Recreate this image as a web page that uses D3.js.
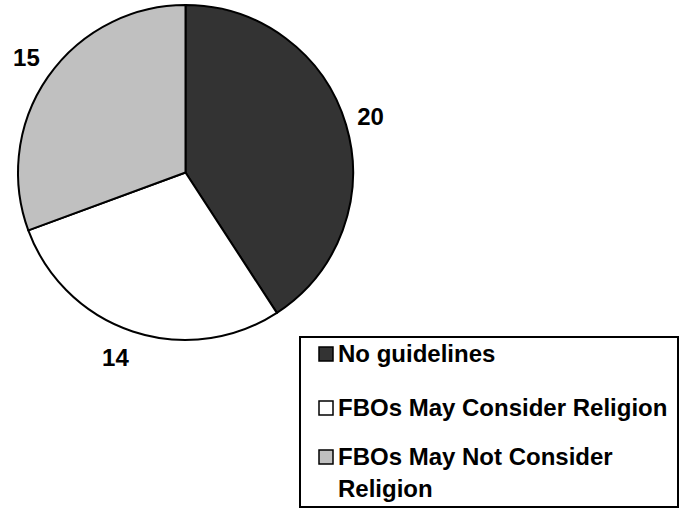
<!DOCTYPE html>
<html>
<head>
<meta charset="utf-8">
<script src="https://cdn.jsdelivr.net/npm/d3@7"></script>
<style>
  html, body { margin: 0; padding: 0; background: #fff; }
  svg text { font-family: "Liberation Sans", Arial, sans-serif; font-weight: bold; fill: #000; }
</style>
</head>
<body>
<svg id="chart" width="679" height="508"></svg>
<script>
// Survey responses on guidelines for faith-based organisations
const categories = ["No guidelines", "FBOs May Consider Religion", "FBOs May Not Consider Religion"];
const counts = [20, 14, 15];
const sliceColors = ["#333333", "#ffffff", "#c0c0c0"];
// legend lines (third label wraps onto two lines)
const legendLines = [["No guidelines"], ["FBOs May Consider Religion"], ["FBOs May Not Consider", "Religion"]];

const svg = d3.select("#chart");
const cx = 185.5, cy = 172.5, radius = 167.5;

const pie = d3.pie().sort(null).value(d => d)(counts);
const arc = d3.arc().innerRadius(0).outerRadius(radius);
const labelArc = d3.arc().innerRadius(194).outerRadius(194);

const g = svg.append("g").attr("transform", `translate(${cx},${cy})`);

g.selectAll("path.slice")
  .data(pie)
  .join("path")
  .attr("class", "slice")
  .attr("d", arc)
  .attr("fill", (d, i) => sliceColors[i])
  .attr("stroke", "#000")
  .attr("stroke-width", 2)
  .attr("stroke-linejoin", "round");

// value labels sit outside the rim; small nudges keep them clear of the edge
const labelNudge = [[-1, -1], [-9, 1], [0, -4]];
g.selectAll("text.value")
  .data(pie)
  .join("text")
  .attr("class", "value")
  .attr("x", (d, i) => labelArc.centroid(d)[0] + labelNudge[i][0])
  .attr("y", (d, i) => labelArc.centroid(d)[1] + labelNudge[i][1])
  .attr("text-anchor", "middle")
  .attr("dominant-baseline", "central")
  .style("font-size", "24px")
  .text(d => d.data);

// legend box
const legend = svg.append("g").attr("transform", "translate(300,337)");
legend.append("rect")
  .attr("x", 0).attr("y", 0)
  .attr("width", 378).attr("height", 170)
  .attr("fill", "#fff")
  .attr("stroke", "#000")
  .attr("stroke-width", 2);

const rowY = [17, 71, 120];
const items = legend.selectAll("g.item")
  .data(categories)
  .join("g")
  .attr("class", "item")
  .attr("transform", (d, i) => `translate(19,${rowY[i]})`);

items.append("rect")
  .attr("x", 0).attr("y", -7)
  .attr("width", 14).attr("height", 14)
  .attr("fill", (d, i) => sliceColors[i])
  .attr("stroke", "#000")
  .attr("stroke-width", 1.5);

items.each(function(d, i) {
  const t = d3.select(this).append("text")
    .attr("x", 19)
    .attr("y", 0)
    .style("font-size", "24px");
  legendLines[i].forEach((line, j) => {
    t.append("tspan")
      .attr("x", 19)
      .attr("dy", j === 0 ? "0.35em" : "1.3em")
      .text(line);
  });
});
</script>
</body>
</html>
